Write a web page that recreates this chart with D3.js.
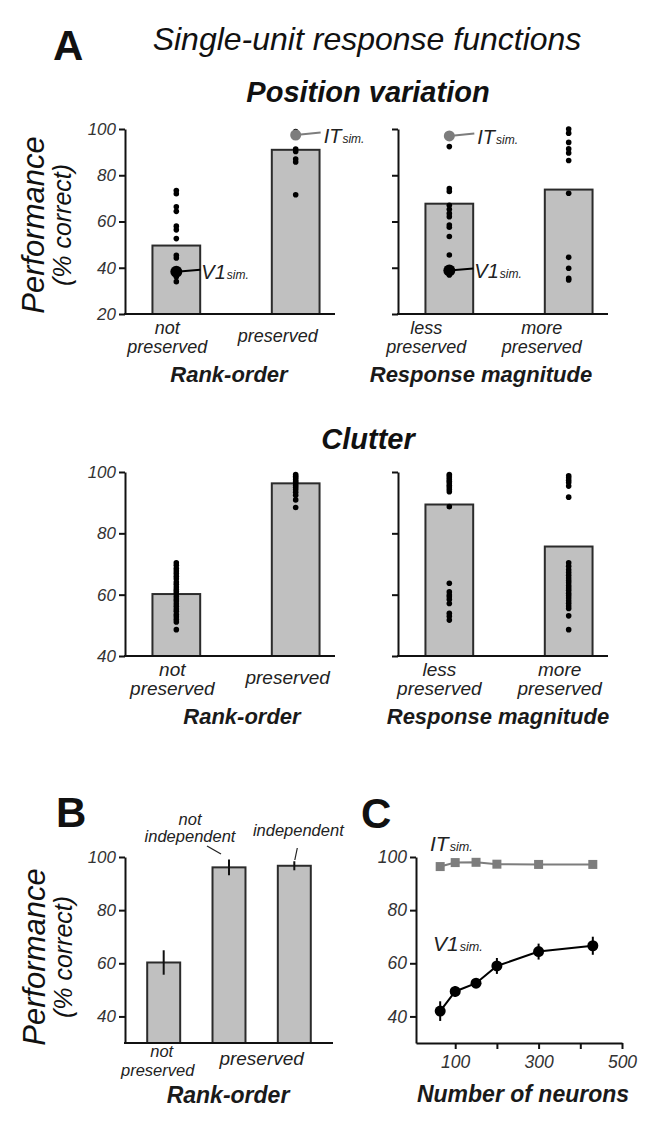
<!DOCTYPE html>
<html>
<head>
<meta charset="utf-8">
<script src="https://cdn.jsdelivr.net/npm/d3@7"></script>
<style>
body { margin: 0; background: #fff; }
svg text { font-family: "Liberation Sans", Arial, Helvetica, sans-serif; }
</style>
</head>
<body>
<div id="fig"></div>
<script>
// ---------- data ----------
var rankCats = ["not preserved", "preserved"];
var magCats = ["less preserved", "more preserved"];

// A, position variation
var posRankMean = [49.6, 91.0];
var posRankPts = [
  [73.4, 72.0, 66.4, 64.4, 58.0, 56.4, 52.6, 45.4, 44.2, 38.7, 37.9, 36.1, 34.0],
  [98.9, 91.3, 90.3, 87.0, 85.7, 71.6]
];
var posRankIT = [null, 97.4];
var posRankV1 = [38.3, null];

var posMagMean = [67.7, 73.8];
var posMagPts = [
  [92.4, 74.2, 73.0, 67.0, 65.3, 63.5, 62.1, 58.5, 57.5, 53.5, 45.5, 37.6, 36.9],
  [100, 98.2, 94.2, 91.4, 89.6, 86.4, 72.2, 44.5, 39.8, 35.4, 34.7]
];
var posMagIT = [97.0, null];
var posMagV1 = [38.8, null];

// A, clutter
var clutRankMean = [60.2, 96.3];
var clutRankPts = [
  [70.4, 69.6, 68.5, 67.7, 66.9, 66.0, 65.2, 64.1, 63.4, 62.5, 61.7, 61.0, 60.3, 59.4, 58.6,
   57.9, 57.0, 56.2, 55.3, 54.6, 53.5, 52.8, 51.9, 51.1, 48.6],
  [99.2, 98.6, 98.1, 97.5, 96.9, 96.4, 95.7, 95.0, 94.3, 93.4, 92.4, 90.9, 88.4]
];
var clutMagMean = [89.4, 75.7];
var clutMagPts = [
  [99.2, 98.7, 98.1, 97.5, 97.0, 96.4, 95.7, 95.1, 94.4, 93.6, 88.7,
   63.7, 60.9, 59.9, 59.3, 58.4, 57.1, 53.9, 53.0, 51.7],
  [98.8, 98.1, 97.3, 96.6, 95.4, 91.8, 70.4, 69.3, 68.1, 67.2, 66.3, 65.4, 64.6, 63.9, 63.0,
   62.2, 61.4, 60.5, 59.7, 58.9, 58.0, 57.2, 56.3, 55.5, 53.1, 48.6]
];

// B
var bGroup = ["not preserved", "preserved", "preserved"];
var bNote = ["", "not independent", "independent"];
var bMean = [60.3, 96.1, 96.7];
var bErr = [4.6, 3.0, 1.7];

// C
var nNeurons = [64, 100, 150, 200, 300, 430];
var v1Mean = [42.0, 49.4, 52.5, 59.0, 64.4, 66.6];
var v1Err = [3.7, 2.0, 1.8, 3.0, 3.0, 3.4];
var itMean = [96.4, 97.9, 98.0, 97.3, 97.2, 97.2];

var perfTicksA = [20, 40, 60, 80, 100];
var perfTicks = [40, 60, 80, 100];
var neuronTicks = [100, 200, 300, 400, 500];
var neuronLabels = [100, 300, 500];

// ---------- setup ----------
var svg = d3.select("#fig").append("svg")
  .attr("width", 661)
  .attr("height", 1133);

var BAR_FILL = "#c0c0c0", BAR_STROKE = "#2b2b2b", IT_GRAY = "#7d7d7d";

function text(x, y, s, size, opt) {
  opt = opt || {};
  return svg.append("text")
    .attr("x", x).attr("y", y)
    .attr("text-anchor", opt.anchor || "middle")
    .attr("font-size", size)
    .attr("font-style", opt.style || "italic")
    .attr("font-weight", opt.weight || "normal")
    .attr("fill", opt.fill || "#111")
    .text(s);
}

// "IT" / "V1" with small "sim." after it
function simLabel(x, y, name, size) {
  var t = svg.append("text")
    .attr("x", x).attr("y", y)
    .attr("font-size", size)
    .attr("font-style", "italic")
    .attr("fill", "#222");
  t.append("tspan").text(name);
  t.append("tspan").attr("font-size", size * 0.6).attr("dx", 1).text("sim.");
}

function styleAxis(g, labelSize) {
  g.select(".domain").attr("stroke", "#111").attr("stroke-width", 2);
  g.selectAll(".tick line").attr("stroke", "#111").attr("stroke-width", 2);
  g.selectAll(".tick text")
    .attr("font-size", labelSize)
    .attr("font-style", "italic")
    .attr("fill", "#333")
    .attr("font-family", "Liberation Sans, Arial, sans-serif");
}

function perfLabel(cx, cy, big, small) {
  text(0, 0, "Performance", big).attr("transform", "translate(" + (cx) + "," + cy + ") rotate(-90)");
  text(0, 0, "(% correct)", small).attr("transform", "translate(" + (cx + 27) + "," + cy + ") rotate(-90)");
}

// bar + scatter panel of panel A
function barPanel(cfg) {
  var y = cfg.y;
  var base = y.range()[0];
  var x = d3.scaleBand().domain(cfg.cats)
    .range([cfg.x0, cfg.x0 + 222])
    .paddingInner(0.6)
    .paddingOuter(0.23);
  var g = svg.append("g");

  g.selectAll(".bar")
    .data(cfg.cats)
    .enter().append("rect")
    .attr("x", function(d) { return x(d); })
    .attr("width", x.bandwidth())
    .attr("y", function(d, i) { return y(cfg.means[i]); })
    .attr("height", function(d, i) { return base - y(cfg.means[i]); })
    .attr("fill", BAR_FILL)
    .attr("stroke", BAR_STROKE)
    .attr("stroke-width", 2);

  var ax = g.append("g")
    .attr("transform", "translate(" + cfg.x0 + ",0)")
    .call(d3.axisLeft(y).tickValues(cfg.ticks).tickSize(6).tickSizeOuter(0).tickPadding(3)
      .tickFormat(cfg.tickLabels ? d3.format("d") : ""));
  styleAxis(ax, 17);

  g.append("line")
    .attr("x1", cfg.x0 - 1).attr("x2", cfg.x0 + 210)
    .attr("y1", base).attr("y2", base)
    .attr("stroke", "#111").attr("stroke-width", 2.2);

  var dots = [];
  cfg.pts.forEach(function(arr, i) {
    arr.forEach(function(v) { dots.push({ c: cfg.cats[i], v: v }); });
  });
  var cx = function(c) { return x(c) + x.bandwidth() / 2; };
  g.selectAll(".dot")
    .data(dots)
    .enter().append("circle")
    .attr("cx", function(d) { return cx(d.c); })
    .attr("cy", function(d) { return y(d.v); })
    .attr("r", 2.8)
    .attr("fill", "#000");

  // simulated populations
  if (cfg.it) cfg.it.forEach(function(v, i) {
    if (v == null) return;
    var px = cx(cfg.cats[i]), py = y(v);
    g.append("line").attr("x1", px).attr("y1", py).attr("x2", px + 25).attr("y2", py - 2.5)
      .attr("stroke", IT_GRAY).attr("stroke-width", 2);
    g.append("circle").attr("cx", px).attr("cy", py).attr("r", 5.5).attr("fill", IT_GRAY);
    simLabel(px + 28, py + 8, "IT", 20);
  });
  if (cfg.v1) cfg.v1.forEach(function(v, i) {
    if (v == null) return;
    var px = cx(cfg.cats[i]), py = y(v);
    g.append("line").attr("x1", px).attr("y1", py).attr("x2", px + 24).attr("y2", py - 2)
      .attr("stroke", "#000").attr("stroke-width", 2);
    g.append("circle").attr("cx", px).attr("cy", py).attr("r", 6).attr("fill", "#000");
    simLabel(px + 25, py + 7, "V1", 20);
  });

  // category labels
  cfg.cats.forEach(function(c, i) {
    var w = c.split(" ");
    var lx = cx(c) + cfg.labelDx[i];
    if (w.length > 1) {
      text(lx, base + 20, w[0], cfg.catSize, { fill: "#222" });
      text(lx, base + 39, w[1], cfg.catSize, { fill: "#222" });
    } else {
      text(lx, base + 28, c, cfg.catSize, { fill: "#222" });
    }
  });
  text(cfg.titleX, base + 68, cfg.title, 22, { weight: "bold", fill: "#1a1a1a" });
}

// ---------- panel A ----------
text(53, 60, "A", 42, { anchor: "start", style: "normal", weight: "bold" });
text(367, 50, "Single-unit response functions", 32);
text(368, 102, "Position variation", 29, { weight: "bold" });

var yPos = d3.scaleLinear().domain([20, 100]).range([314, 129]);
perfLabel(44, 225, 31, 25);

barPanel({ x0: 125, y: yPos, cats: rankCats, means: posRankMean, pts: posRankPts,
  it: posRankIT, v1: posRankV1, ticks: perfTicksA, tickLabels: true,
  labelDx: [-9, -18], catSize: 18, title: "Rank-order", titleX: 229 });
barPanel({ x0: 398, y: yPos, cats: magCats, means: posMagMean, pts: posMagPts,
  it: posMagIT, v1: posMagV1, ticks: perfTicksA, tickLabels: false,
  labelDx: [-23, -27], catSize: 18, title: "Response magnitude", titleX: 481 });

text(368, 449, "Clutter", 29, { weight: "bold" });
var yClut = d3.scaleLinear().domain([40, 100]).range([656, 472]);

barPanel({ x0: 125, y: yClut, cats: rankCats, means: clutRankMean, pts: clutRankPts,
  ticks: perfTicks, tickLabels: true,
  labelDx: [-4, -8], catSize: 19, title: "Rank-order", titleX: 242 });
barPanel({ x0: 398, y: yClut, cats: magCats, means: clutMagMean, pts: clutMagPts,
  ticks: perfTicks, tickLabels: false,
  labelDx: [-10, -9], catSize: 19, title: "Response magnitude", titleX: 498 });

// ---------- panel B ----------
text(56, 827, "B", 42, { anchor: "start", style: "normal", weight: "bold" });
var yB = d3.scaleLinear().domain([30, 100]).range([1043, 857]);
var xB = d3.scaleBand().domain(d3.range(bMean.length))
  .range([125, 333]).paddingInner(0.495).paddingOuter(0.34);
perfLabel(45, 957, 31, 25);

var gB = svg.append("g");
gB.selectAll(".bar")
  .data(bMean)
  .enter().append("rect")
  .attr("x", function(d, i) { return xB(i); })
  .attr("width", xB.bandwidth())
  .attr("y", function(d) { return yB(d); })
  .attr("height", function(d) { return 1043 - yB(d); })
  .attr("fill", BAR_FILL).attr("stroke", BAR_STROKE).attr("stroke-width", 2);

gB.selectAll(".err")
  .data(bMean)
  .enter().append("line")
  .attr("x1", function(d, i) { return xB(i) + xB.bandwidth() / 2; })
  .attr("x2", function(d, i) { return xB(i) + xB.bandwidth() / 2; })
  .attr("y1", function(d, i) { return yB(d - bErr[i]); })
  .attr("y2", function(d, i) { return yB(d + bErr[i]); })
  .attr("stroke", "#111").attr("stroke-width", 2);

var axB = gB.append("g").attr("transform", "translate(125,0)")
  .call(d3.axisLeft(yB).tickValues(perfTicks).tickSize(6).tickSizeOuter(0).tickPadding(3));
styleAxis(axB, 17);
gB.append("line").attr("x1", 124).attr("x2", 333).attr("y1", 1043).attr("y2", 1043)
  .attr("stroke", "#111").attr("stroke-width", 2.2);

// x labels of B
var bc = function(i) { return xB(i) + xB.bandwidth() / 2; };
var g0 = bGroup[0].split(" ");
text(bc(0) - 2, 1057, g0[0], 16.5, { fill: "#222" });
text(bc(0) - 6, 1076, g0[1], 16.5, { fill: "#222" });
text((bc(1) + bc(2)) / 2, 1065, bGroup[1], 19, { fill: "#222" });
text(228, 1103, "Rank-order", 23, { weight: "bold", fill: "#1a1a1a" });

// notes over bars 2 and 3
var n1 = bNote[1].split(" ");
text(bc(1) - 39, 825, n1[0], 16.5, { fill: "#222" });
text(bc(1) - 39, 842, n1[1], 16.5, { fill: "#222" });
gB.append("line").attr("x1", bc(1) - 22).attr("y1", 846).attr("x2", bc(1) - 8).attr("y2", 854)
  .attr("stroke", "#222").attr("stroke-width", 1.2);
text(bc(2) + 4, 836, bNote[2], 16.5, { fill: "#222" });
gB.append("line").attr("x1", bc(2) + 3).attr("y1", 848).attr("x2", bc(2) + 0.5).attr("y2", 860)
  .attr("stroke", "#222").attr("stroke-width", 1.2);

// ---------- panel C ----------
text(361, 828, "C", 42, { anchor: "start", style: "normal", weight: "bold" });
var xC = d3.scaleLinear().domain([6, 500]).range([416, 622]);
var yC = d3.scaleLinear().domain([30, 100]).range([1043, 857]);
var gC = svg.append("g");

var axCy = gC.append("g").attr("transform", "translate(416,0)")
  .call(d3.axisLeft(yC).tickValues(perfTicks).tickSize(6).tickSizeOuter(0).tickPadding(3));
styleAxis(axCy, 17.5);
var axCx = gC.append("g").attr("transform", "translate(0,1043)")
  .call(d3.axisBottom(xC).tickValues(neuronTicks).tickSize(6).tickSizeOuter(0).tickPadding(7)
    .tickFormat(function(d) { return neuronLabels.indexOf(d) >= 0 ? d : ""; }));
styleAxis(axCx, 17.5);

var cData = nNeurons.map(function(n, i) {
  return { n: n, v1: v1Mean[i], e: v1Err[i], it: itMean[i] };
});

gC.append("path").datum(cData)
  .attr("fill", "none").attr("stroke", IT_GRAY).attr("stroke-width", 2)
  .attr("d", d3.line().x(function(d) { return xC(d.n); }).y(function(d) { return yC(d.it); }));
gC.selectAll(".sq")
  .data(cData)
  .enter().append("rect")
  .attr("x", function(d) { return xC(d.n) - 4.5; })
  .attr("y", function(d) { return yC(d.it) - 4.5; })
  .attr("width", 9).attr("height", 9)
  .attr("fill", IT_GRAY);

gC.append("path").datum(cData)
  .attr("fill", "none").attr("stroke", "#000").attr("stroke-width", 2)
  .attr("d", d3.line().x(function(d) { return xC(d.n); }).y(function(d) { return yC(d.v1); }));
gC.selectAll(".ve")
  .data(cData)
  .enter().append("line")
  .attr("x1", function(d) { return xC(d.n); })
  .attr("x2", function(d) { return xC(d.n); })
  .attr("y1", function(d) { return yC(d.v1 - d.e); })
  .attr("y2", function(d) { return yC(d.v1 + d.e); })
  .attr("stroke", "#000").attr("stroke-width", 2);
gC.selectAll(".vc")
  .data(cData)
  .enter().append("circle")
  .attr("cx", function(d) { return xC(d.n); })
  .attr("cy", function(d) { return yC(d.v1); })
  .attr("r", 5.5)
  .attr("fill", "#000");

simLabel(430, 851, "IT", 21);
simLabel(433, 951, "V1", 21);
text(523, 1102, "Number of neurons", 23, { weight: "bold", fill: "#1a1a1a" });
</script>
</body>
</html>
